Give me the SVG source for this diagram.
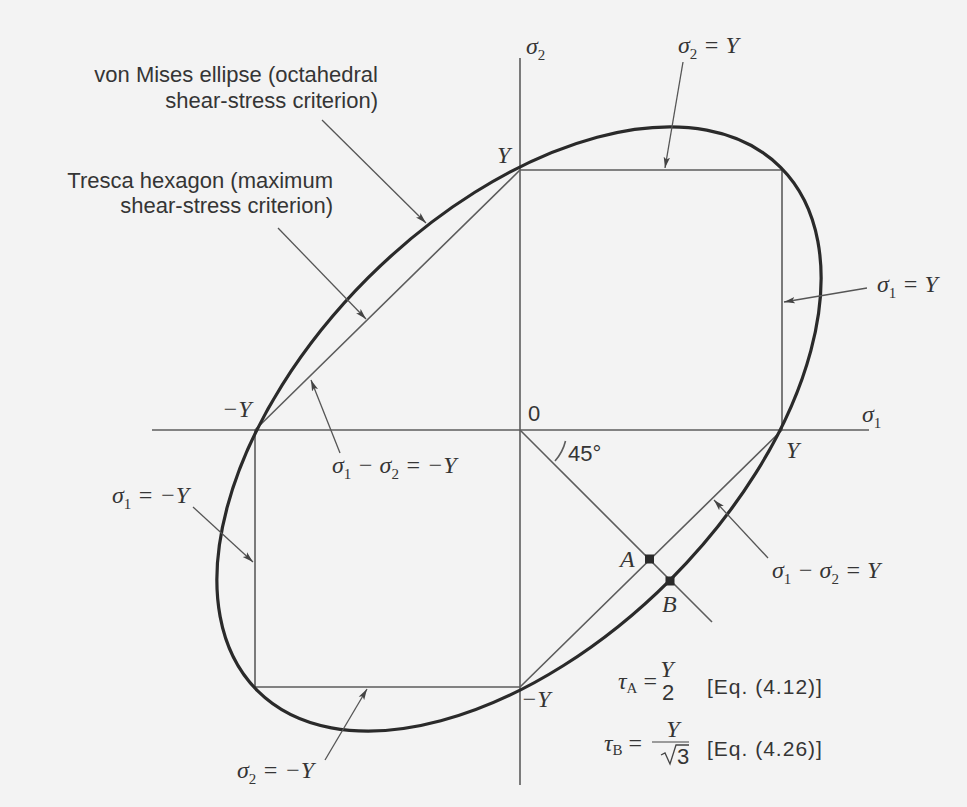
<svg xmlns="http://www.w3.org/2000/svg" width="967" height="807" viewBox="0 0 967 807">
<style>
.ax{stroke:#5c5c5c;stroke-width:1.6;fill:none}
.tr{stroke:#5c5c5c;stroke-width:1.6;fill:none}
.vm{stroke:#2a2a2a;stroke-width:3.2;fill:none}
.ld{stroke:#555;stroke-width:1.3;fill:none;marker-end:url(#ah)}
.lbl{font-family:"Liberation Sans",Arial,sans-serif;font-size:22px;fill:#353535}
.eq{font-family:"Liberation Sans",Arial,sans-serif;font-size:21px;fill:#353535;letter-spacing:1px}
.m{font-family:"Liberation Serif","Times New Roman",serif;font-style:italic;font-size:24px;fill:#353535}
.sub{font-size:15px;font-style:normal}
.pt{fill:#2a2a2a}
</style>
<defs>
<marker id="ah" markerWidth="12" markerHeight="8" refX="11" refY="4" orient="auto" markerUnits="userSpaceOnUse">
<path d="M0,0.8 L11,4 L0,7.2 L2.5,4 z" fill="#444"/>
</marker>
</defs>
<rect x="0" y="0" width="967" height="807" fill="#f3f3f3"/>

<g id="axes">
<line class="ax" x1="152" y1="430" x2="869" y2="430"/>
<line class="ax" x1="520" y1="58" x2="520" y2="785"/>
<line class="ax" x1="520" y1="430" x2="712" y2="622"/>
<path class="ax" d="M565.5,441 A47,47 0 0 1 555,461"/>
<text class="m" x="526" y="54">σ<tspan class="sub" dy="6">2</tspan></text>
<text class="m" x="862" y="422">σ<tspan class="sub" dy="6">1</tspan></text>
<text class="lbl" x="528" y="421" font-size="18">0</text>
<text class="lbl" x="568" y="461" font-size="18">45°</text>
</g>

<g id="tresca-hexagon">
<path class="tr" d="M782,430 L782,170 L520,170 L255,430 L255,687 L520,687 Z"/>
</g>

<g id="von-mises-ellipse">
<ellipse class="vm" cx="519" cy="429" rx="370" ry="213.6" transform="rotate(-45 519 429)"/>
</g>

<g id="axis-values">
<text class="m" x="497" y="163">Y</text>
<text class="m" x="222" y="417">−Y</text>
<text class="m" x="786" y="458">Y</text>
<text class="m" x="521" y="707">−Y</text>
</g>

<g id="point-A">
<rect class="pt" x="645" y="554.5" width="9" height="9"/>
<text class="m" x="620" y="567">A</text>
</g>
<g id="point-B">
<rect class="pt" x="665.5" y="576.5" width="9" height="9"/>
<text class="m" x="662" y="612">B</text>
</g>

<g id="connectors">
<line class="ld" x1="322" y1="120" x2="426" y2="223"/>
<line class="ld" x1="278" y1="228" x2="366" y2="319"/>
<line class="ld" x1="683" y1="62" x2="665" y2="168"/>
<line class="ld" x1="867" y1="288" x2="784" y2="302"/>
<line class="ld" x1="340" y1="453" x2="311" y2="380"/>
<line class="ld" x1="193" y1="507" x2="253" y2="562"/>
<line class="ld" x1="325" y1="760" x2="367" y2="689"/>
<line class="ld" x1="768" y1="558" x2="714" y2="500"/>
</g>

<g id="label-von-mises">
<text class="lbl" x="378" y="82" text-anchor="end">von Mises ellipse (octahedral</text>
<text class="lbl" x="378" y="108" text-anchor="end">shear-stress criterion)</text>
</g>
<g id="label-tresca">
<text class="lbl" x="333" y="188" text-anchor="end">Tresca hexagon (maximum</text>
<text class="lbl" x="333" y="213" text-anchor="end">shear-stress criterion)</text>
</g>
<g id="label-s2-Y">
<text class="m" x="678" y="53">σ<tspan class="sub" dy="6">2</tspan><tspan dy="-6"> = Y</tspan></text>
</g>
<g id="label-s1-Y">
<text class="m" x="877" y="292">σ<tspan class="sub" dy="6">1</tspan><tspan dy="-6"> = Y</tspan></text>
</g>
<g id="label-s1-s2-negY">
<text class="m" x="332" y="473">σ<tspan class="sub" dy="6">1</tspan><tspan dy="-6"> − σ</tspan><tspan class="sub" dy="6">2</tspan><tspan dy="-6"> = −Y</tspan></text>
</g>
<g id="label-s1-negY">
<text class="m" x="112" y="503">σ<tspan class="sub" dy="6">1</tspan><tspan dy="-6"> = −Y</tspan></text>
</g>
<g id="label-s2-negY">
<text class="m" x="237" y="778">σ<tspan class="sub" dy="6">2</tspan><tspan dy="-6"> = −Y</tspan></text>
</g>
<g id="label-s1-s2-Y">
<text class="m" x="772" y="578">σ<tspan class="sub" dy="6">1</tspan><tspan dy="-6"> − σ</tspan><tspan class="sub" dy="6">2</tspan><tspan dy="-6"> = Y</tspan></text>
</g>

<g id="eq-tauA">
<text class="m" x="618" y="689" font-size="20">τ<tspan class="sub" font-size="12" dy="4" font-style="italic">A</tspan><tspan dy="-4" font-style="normal"> =</tspan></text>
<text class="m" x="667" y="677" font-size="20" text-anchor="middle">Y</text>
<text class="lbl" x="668" y="700" font-size="20" text-anchor="middle">2</text>
<text class="eq" x="707" y="694">[Eq. (4.12)]</text>
</g>
<g id="eq-tauB">
<text class="m" x="604" y="751" font-size="20">τ<tspan class="sub" font-size="12" dy="4" font-style="italic">B</tspan><tspan dy="-4" font-style="normal"> =</tspan></text>
<text class="m" x="673" y="737" font-size="20" text-anchor="middle">Y</text>
<line x1="652" y1="742" x2="689" y2="742" stroke="#444" stroke-width="1.2"/>
<path d="M661,755 L665,753 L670,764 L676,745 L689,745" stroke="#444" stroke-width="1.3" fill="none"/>
<text class="lbl" x="677" y="764" font-size="19">3</text>
<text class="eq" x="707" y="756">[Eq. (4.26)]</text>
</g>
</svg>
